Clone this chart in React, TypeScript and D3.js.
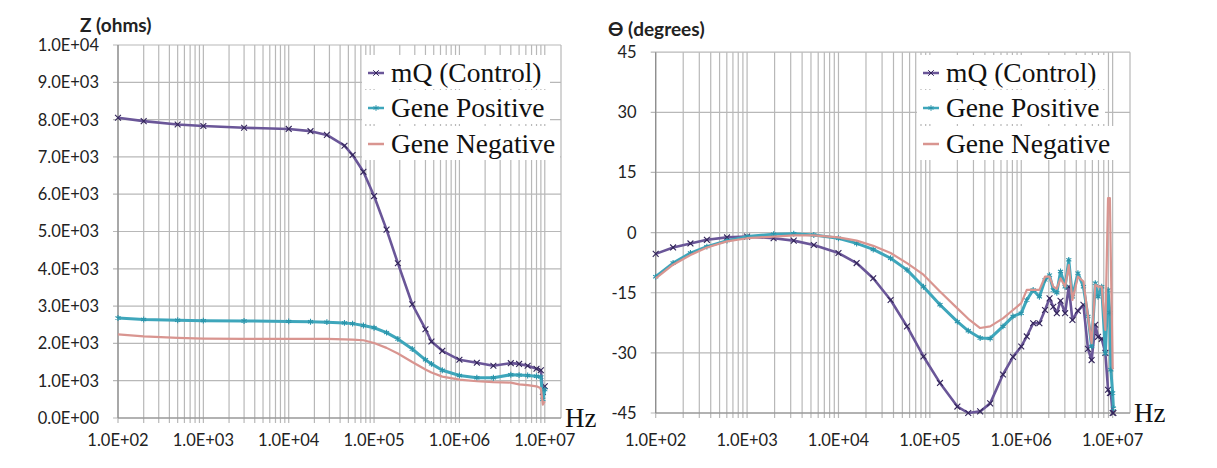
import * as d3 from 'd3';

// frequency grid (Hz) used for the impedance magnitude panel
const freqZ = [
  100, 200, 500, 1000, 3000, 1e4, 1.8e4, 2.8e4, 4.5e4, 5.6e4, 7.5e4, 1e5, 1.4e5, 1.9e5,
  2.8e5, 4e5, 4.7e5, 6.3e5, 1e6, 1.6e6, 2.5e6, 4e6, 5e6, 6.3e6, 8e6, 9e6, 9.5e6, 1e7,
];
const zControl = [
  8050, 7960, 7870, 7830, 7780, 7750, 7690, 7590, 7300, 7050, 6600, 5950, 5050, 4150,
  3050, 2380, 2050, 1800, 1560, 1480, 1400, 1470, 1450, 1400, 1320, 1280, 700, 850,
];
const zPositive = [
  2680, 2640, 2620, 2610, 2600, 2590, 2580, 2570, 2550, 2530, 2480, 2420, 2290, 2120,
  1850, 1560, 1450, 1280, 1140, 1080, 1080, 1160, 1150, 1140, 1120, 1100, 500, 760,
];
const zNegative = [
  2240, 2190, 2150, 2130, 2120, 2120, 2120, 2120, 2110, 2100, 2085, 2010, 1880, 1730,
  1500, 1300, 1220, 1110, 1030, 985, 960, 950, 900, 880, 850, 800, 360, 450,
];

// frequency grid (Hz) used for the phase panel
const freqP = [
  100, 155, 240, 363, 603, 1000, 1950, 3240, 5370, 1e4, 1.58e4, 2.4e4, 3.72e4, 5.62e4,
  8.51e4, 1.29e5, 2e5, 2.63e5, 3.55e5, 4.57e5, 6.31e5, 8.13e5, 1e6, 1.15e6, 1.35e6,
  1.58e6, 1.82e6, 2.04e6, 2.24e6, 2.45e6, 2.69e6, 3.02e6, 3.31e6, 3.63e6, 4.17e6,
  4.79e6, 5.37e6, 5.89e6, 6.46e6, 6.92e6, 7.59e6, 8.32e6, 8.91e6, 9.33e6, 9.55e6,
  1e7, 1.02e7,
];
const pControl = [
  -5.3, -3.7, -2.7, -1.8, -1.2, -1.0, -1.4, -2.0, -3.1, -5.1, -7.6, -11.4, -16.8, -23.4,
  -30.9, -37.5, -43.4, -45.0, -44.6, -42.6, -35.4, -31.0, -28.4, -25.9, -22.6,
  -22.6, -19.3, -16.4, -18.5, -20.1, -17.0, -20.1, -13.5, -21.8, -19.5,
  -18.0, -29.0, -31.8, -23.0, -26.0, -26.5, -30.0, -39.2, -40.0, -40.0,
  -45.0, -45.0,
];
const pPositive = [
  -11.0, -7.6, -5.1, -3.5, -2.0, -1.0, -0.4, -0.3, -0.6, -1.4, -2.7, -4.2, -6.4, -9.3,
  -13.5, -18.0, -22.2, -24.5, -26.3, -26.4, -23.4, -20.9, -20.1, -16.8, -14.3,
  -16.0, -11.8, -10.6, -14.3, -15.0, -9.7, -13.5, -6.8, -16.0, -10.1,
  -13.5, -20.9, -28.4, -12.6, -16.0, -13.5, -30.1, -14.3, -20.0, -34.2,
  -40.0, -43.8,
];
const pNegative = [
  -11.4, -8.0, -5.6, -3.7, -2.2, -1.4, -1.0, -0.7, -0.7, -1.2, -2.0, -3.3, -5.1, -7.6,
  -10.5, -14.7, -18.9, -21.5, -23.8, -23.4, -21.4, -19.3, -17.6, -14.3, -14.3,
  -14.3, -11.0, -11.0, -13.5, -14.0, -11.4, -13.5, -8.1, -16.8, -11.0,
  -12.2, -20.9, -27.6, -13.0, -13.5, -13.5, -24.3, 8.6, 8.6, -6.0,
  -33.8, -34.0,
];

const seriesNames = ['mQ (Control)', 'Gene Positive', 'Gene Negative'];
const zTicks = [0, 1000, 2000, 3000, 4000, 5000, 6000, 7000, 8000, 9000, 10000];
const zTickLabels = ['0.0E+00', '1.0E+03', '2.0E+03', '3.0E+03', '4.0E+03', '5.0E+03', '6.0E+03', '7.0E+03', '8.0E+03', '9.0E+03', '1.0E+04'];
const pTicks = [-45, -30, -15, 0, 15, 30, 45];
const xTicks = [1e2, 1e3, 1e4, 1e5, 1e6, 1e7];
const xTickLabels = ['1.0E+02', '1.0E+03', '1.0E+04', '1.0E+05', '1.0E+06', '1.0E+07'];

const XMAX = Math.pow(10, 7.19);
const colors = {
  control: '#6a5698',
  controlMark: '#33255a',
  positive: '#3ea6bb',
  positiveMark: '#2a94aa',
  negative: '#d99590',
};
const serif = '"Liberation Serif", "Times New Roman", serif';
const sans = 'Lato, "Open Sans", sans-serif';

// all 1..9 x 10^n gridline positions inside the domain
const logGrid: number[] = [];
for (let e = 2; e <= 7; e++) for (let m = 1; m <= 9; m++) if (m * 10 ** e <= XMAX) logGrid.push(m * 10 ** e);

interface Series {
  values: number[];
  color: string;
  mark?: string;
  symbol?: d3.SymbolType;
  width: number;
}

interface PanelProps {
  x0: number; x1: number; y0: number; y1: number;
  freq: number[];
  yDomain: [number, number];
  yTicks: number[];
  yLabels: string[];
  series: Series[];
  title: string;
  titleX: number; titleY: number;
  legendX: number;
  legendW: number[];
}

const Panel = (p: PanelProps) => {
  const x = d3.scaleLog().domain([100, XMAX]).range([p.x0, p.x1]);
  const y = d3.scaleLinear().domain(p.yDomain).range([p.y1, p.y0]);
  const line = d3.line<number>().x((_, i) => x(p.freq[i])).y(d => y(d));
  const grid = '#b8b8b8';
  const legendRows = [72, 107, 143];

  return (
    <g>
      {logGrid.map(f => (
        <line key={'v' + f} x1={x(f)} x2={x(f)} y1={p.y0} y2={p.y1 + 5} stroke={grid} strokeWidth={1.2} />
      ))}
      {p.yTicks.map(t => (
        <line key={'h' + t} x1={p.x0 - 5} x2={p.x1} y1={y(t)} y2={y(t)} stroke={grid} strokeWidth={1.2} />
      ))}
      <line x1={p.x1} x2={p.x1} y1={p.y0} y2={p.y1} stroke={grid} strokeWidth={1.2} />
      <line x1={p.x0} x2={p.x0} y1={p.y0} y2={p.y1} stroke="#8a8a8a" strokeWidth={1.2} />
      <line x1={p.x0} x2={p.x1} y1={p.y1} y2={p.y1} stroke="#8a8a8a" strokeWidth={1.2} />

      {p.yTicks.map((t, i) => (
        <text key={'yl' + t} x={p.x0 - 19} y={y(t)} dy="0.36em" textAnchor="end"
          fontFamily={sans} fontSize={16.5} fill="#222">{p.yLabels[i]}</text>
      ))}
      {xTicks.map((t, i) => (
        <text key={'xl' + t} x={x(t)} y={440} dy="0.36em" textAnchor="middle"
          fontFamily={sans} fontSize={16.5} fill="#222">{xTickLabels[i]}</text>
      ))}
      <text x={p.titleX} y={p.titleY} fontFamily={sans} fontWeight="bold" fontSize={19} fill="#222">{p.title}</text>
      <text x={p.x1 + 4} y={p.y1} dy="0.35em" fontFamily={serif} fontSize={27} fill="#111">Hz</text>

      {p.series.map((s, si) => (
        <g key={'s' + si}>
          <path d={line(s.values) ?? ''} fill="none" stroke={s.color} strokeWidth={s.width} strokeLinejoin="round" />
          {s.symbol && s.values.map((v, i) => (
            <path key={i} transform={`translate(${x(p.freq[i])},${y(v)})`}
              d={d3.symbol(s.symbol!, 24)() ?? ''} fill="none" stroke={s.mark} strokeWidth={1.1} />
          ))}
        </g>
      ))}

      {seriesNames.map((name, i) => (
        <g key={'lg' + i}>
          <rect x={p.legendX} y={legendRows[i] - 17} width={p.legendW[i]} height={34} fill="#fff" />
          <line x1={p.legendX + 6} x2={p.legendX + 22} y1={legendRows[i] + 1} y2={legendRows[i] + 1}
            stroke={p.series[i].color} strokeWidth={2.5} />
          {p.series[i].symbol && (
            <path transform={`translate(${p.legendX + 14},${legendRows[i] + 1})`}
              d={d3.symbol(p.series[i].symbol!, 22)() ?? ''} fill="none" stroke={p.series[i].mark} strokeWidth={1} />
          )}
          <text x={p.legendX + 29} y={legendRows[i]} dy="0.35em" fontFamily={serif} fontSize={27.5} fill="#111">{name}</text>
        </g>
      ))}
    </g>
  );
};

export default function App() {
  const mkSeries = (a: number[], b: number[], c: number[]): Series[] => [
    { values: a, color: colors.control, mark: colors.controlMark, symbol: d3.symbolTimes, width: 2.6 },
    { values: b, color: colors.positive, mark: colors.positiveMark, symbol: d3.symbolAsterisk, width: 3 },
    { values: c, color: colors.negative, width: 2.2 },
  ];
  return (
    <svg width={1217} height={468} style={{ position: 'absolute', left: 0, top: 0, background: '#fff' }}>
      <Panel x0={118} x1={561} y0={45} y1={418} freq={freqZ} yDomain={[0, 10000]}
        yTicks={zTicks} yLabels={zTickLabels} series={mkSeries(zControl, zPositive, zNegative)}
        title="Z (ohms)" titleX={80} titleY={32} legendX={362} legendW={[188, 188, 198]} />
      <Panel x0={655.7} x1={1130} y0={52.2} y1={413} freq={freqP} yDomain={[-45, 45]}
        yTicks={pTicks} yLabels={pTicks.map(String)} series={mkSeries(pControl, pPositive, pNegative)}
        title="ϴ (degrees)" titleX={608} titleY={36} legendX={917} legendW={[188, 188, 198]} />
    </svg>
  );
}
